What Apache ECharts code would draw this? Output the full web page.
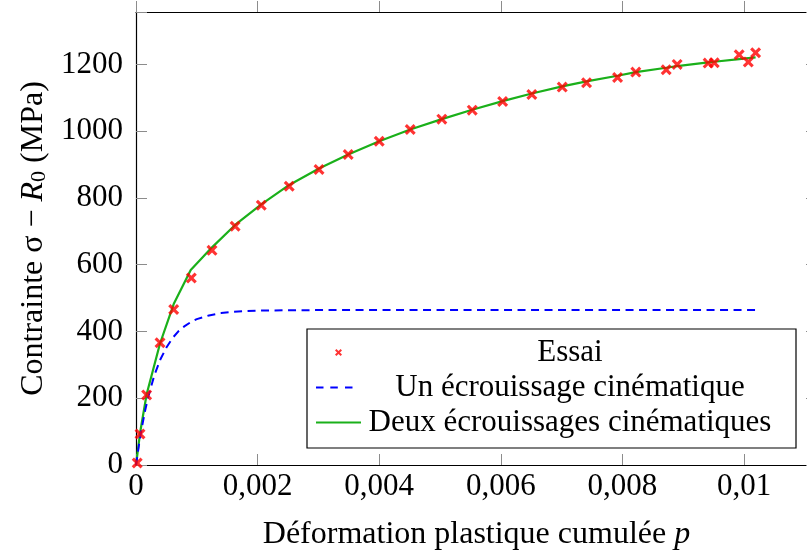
<!DOCTYPE html>
<html><head><meta charset="utf-8">
<script src="https://cdn.jsdelivr.net/npm/echarts@6/dist/echarts.min.js"></script>
<style>html,body{margin:0;padding:0;background:#fff}#c{width:807px;height:556px}</style>
</head><body><div id="c"></div>
<script>
// Essai (experimental points)
const essaiP = [0.00002, 0.000066, 0.000175, 0.000395, 0.00062, 0.00091, 0.00125, 0.00163, 0.00206, 0.00252, 0.00301, 0.00349, 0.004, 0.00451, 0.00503, 0.00553, 0.00603, 0.00651, 0.00701, 0.00741, 0.00792, 0.00822, 0.00872, 0.0089, 0.00941, 0.00951, 0.00992, 0.01007, 0.01019];
const essaiSigma = [6, 93, 210, 366, 466, 560, 643, 715, 778, 835, 885, 930, 970, 1005, 1036, 1063, 1089, 1110, 1132, 1145, 1161, 1177, 1184, 1200, 1204, 1205, 1229, 1207, 1235];
// Un écrouissage cinématique
const unP = [0, 0.00005, 0.0001, 0.00015, 0.0002, 0.0003, 0.0004, 0.0005, 0.0006, 0.0007, 0.0008, 0.0009, 0.001, 0.0012, 0.0014, 0.0016, 0.0018, 0.002, 0.0025, 0.003, 0.0102];
const unSigma = [0, 62, 116, 163, 203, 268, 316, 352, 380, 401, 416, 428, 437, 448, 455, 459, 461, 462.5, 463.5, 464, 464];
// Deux écrouissages cinématiques
const deuxP = [0, 0.000066, 0.000175, 0.000395, 0.00062, 0.0009, 0.00125, 0.00163, 0.00206, 0.00252, 0.00301, 0.00349, 0.004, 0.00451, 0.00503, 0.00553, 0.00603, 0.00651, 0.00701, 0.00741, 0.00792, 0.00822, 0.00872, 0.0089, 0.00941, 0.00951, 0.00992, 0.01007, 0.01019];
const deuxSigma = [0, 95, 212, 364, 482, 584, 652, 719, 781, 839, 888, 930, 970, 1005, 1036, 1064, 1090, 1113, 1134, 1149, 1166, 1177, 1190, 1195, 1206, 1208, 1216, 1219, 1221];
// ticks
const xTicks = [0, 0.002, 0.004, 0.006, 0.008, 0.01];
const yTicks = [0, 200, 400, 600, 800, 1000, 1200];

const FONT = '"Liberation Serif", "Times New Roman", serif';
const zip = (a, b) => a.map((v, i) => [v, b[i]]);
const isTick = (list, v) => list.some(t => Math.abs(t - v) < 1e-9);
const fmtX = v => isTick(xTicks, v) ? (v === 0 ? '0' : String(+v.toFixed(4)).replace('.', ',')) : '';
const fmtY = v => isTick(yTicks, v) ? String(v) : '';
const mkTick = inside => ({show: true, inside: inside, length: 11, lineStyle: {color: '#8c8c8c', width: 1}});
const mkLine = () => ({show: true, onZero: false, lineStyle: {color: '#000', width: 1.2}});
const rich = {
  i: {fontFamily: FONT, fontSize: 32, fontStyle: 'italic', color: '#000'},
  s: {fontFamily: FONT, fontSize: 22, color: '#000', verticalAlign: 'bottom', lineHeight: 22}
};
const cross = 'path://M2,0L5,3L8,0L10,2L7,5L10,8L8,10L5,7L2,10L0,8L3,5L0,2Z';
const corners = 'M0,0L0.01,0L0,0.01Z M45,14L44.99,14L45,13.99Z ';
const legendCross = 'path://' + corners + 'M20.4,3.5L22.5,5.6L24.6,3.5L26,4.9L23.9,7L26,9.1L24.6,10.5L22.5,8.4L20.4,10.5L19,9.1L21.1,7L19,4.9Z';
const legendDash = 'path://' + corners + 'M0,6L7.5,6L7.5,8L0,8Z M14.3,6L21.8,6L21.8,8L14.3,8Z M29,6L36.5,6L36.5,8L29,8Z';
const legendSolid = 'path://' + corners + 'M0,5.9L45,5.9L45,8.1L0,8.1Z';

const chart = echarts.init(document.getElementById('c'), null, {renderer: 'canvas'});
chart.setOption({
  animation: false,
  backgroundColor: '#fff',
  grid: {left: 136, top: 12, width: 681, height: 453, containLabel: false, outerBoundsMode: 'none'},
  xAxis: [{
    type: 'value', min: 0, max: 0.0112, interval: 0.002,
    axisLine: mkLine(), axisTick: mkTick(true), splitLine: {show: false},
    axisLabel: {formatter: fmtX, fontFamily: FONT, fontSize: 31, color: '#000', margin: 6},
    name: 'Déformation plastique cumulée {i|p}', nameLocation: 'middle', nameGap: 54,
    nameTextStyle: {fontFamily: FONT, fontSize: 32, color: '#000', rich: rich}
  }, {
    type: 'value', position: 'top', min: 0, max: 0.0112, interval: 0.002,
    axisLine: mkLine(), axisTick: mkTick(false), axisLabel: {show: false}, splitLine: {show: false}
  }],
  yAxis: [{
    type: 'value', min: 0, max: 1357, interval: 200,
    axisLine: mkLine(), axisTick: mkTick(true), splitLine: {show: false},
    axisLabel: {formatter: fmtY, fontFamily: FONT, fontSize: 31, color: '#000', margin: 13},
    name: 'Contrainte σ − {i|R}{s|0} (MPa)', nameLocation: 'middle', nameGap: 86,
    nameTextStyle: {fontFamily: FONT, fontSize: 32, color: '#000', rich: rich}
  }, {
    type: 'value', position: 'right', min: 0, max: 1357, interval: 200,
    axisLine: mkLine(), axisTick: mkTick(true), axisLabel: {show: false}, splitLine: {show: false}
  }],
  legend: {
    orient: 'vertical', left: 307, top: 329, padding: [8, 22, 10, 9],
    itemGap: 4, itemWidth: 45, itemHeight: 14,
    borderColor: '#000', borderWidth: 1.2, borderRadius: 0, backgroundColor: '#fff',
    formatter: n => '{c|' + n + '}',
    textStyle: {fontFamily: FONT, fontSize: 31, color: '#000',
      rich: {c: {width: 408, align: 'center', fontFamily: FONT, fontSize: 31, lineHeight: 32, color: '#000'}}},
    data: [
      {name: 'Essai', icon: legendCross, itemStyle: {color: '#ff0000', borderWidth: 0}},
      {name: 'Un écrouissage cinématique', icon: legendDash, itemStyle: {color: '#0000ff', borderWidth: 0}},
      {name: 'Deux écrouissages cinématiques', icon: legendSolid, itemStyle: {color: '#1ab01a', borderWidth: 0}}
    ]
  },
  series: [{
    name: 'Essai', type: 'scatter', z: 4, symbol: cross, symbolSize: 11, symbolKeepAspect: true,
    itemStyle: {color: '#ff0000'}, data: zip(essaiP, essaiSigma)
  }, {
    name: 'Un écrouissage cinématique', type: 'line', z: 3, symbol: 'none', showSymbol: false,
    lineStyle: {color: '#0000ff', width: 2, type: [8, 5.5]}, itemStyle: {color: '#0000ff'},
    data: zip(unP, unSigma)
  }, {
    name: 'Deux écrouissages cinématiques', type: 'line', z: 2, symbol: 'none', showSymbol: false,
    lineStyle: {color: '#1ab01a', width: 2.2}, itemStyle: {color: '#1ab01a'},
    data: zip(deuxP, deuxSigma)
  }]
});
</script></body></html>
